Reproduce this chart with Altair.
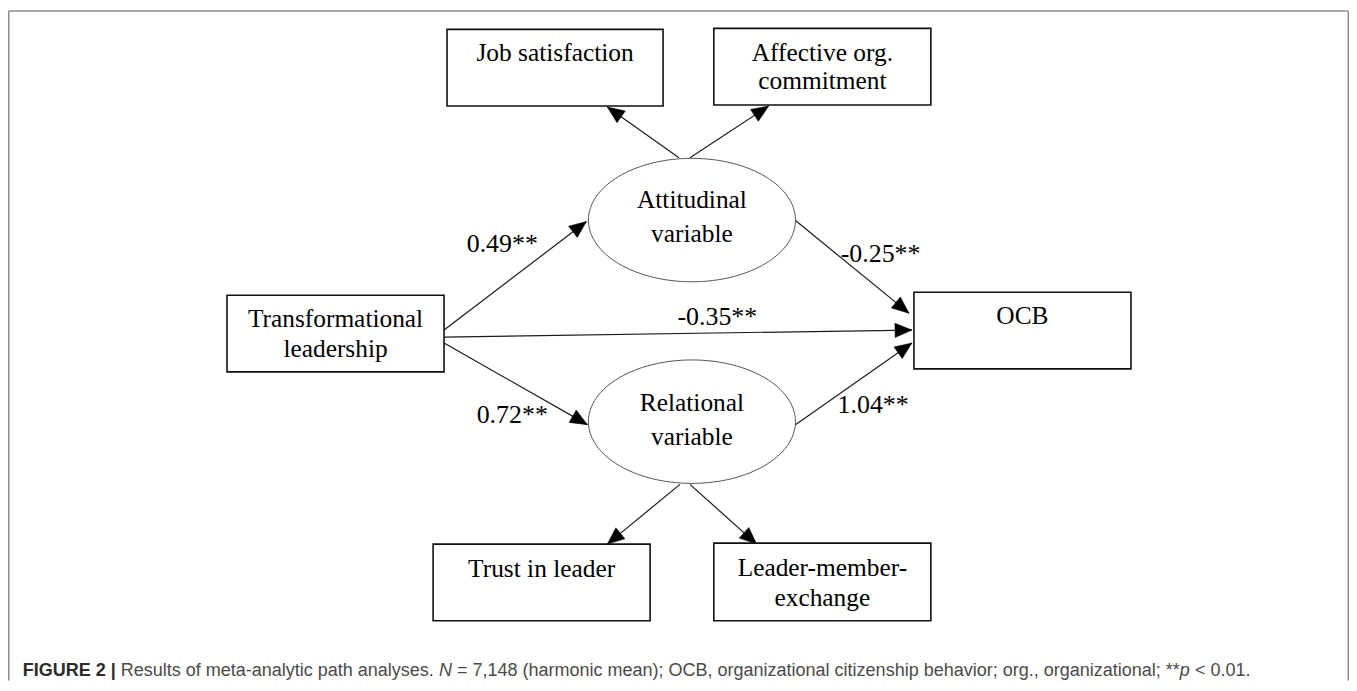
import altair as alt
import pandas as pd

# ---------------- layout of the page ----------------
W, H = 1347, 674          # plot area (px); page offset is 8px
ORIGIN = 8

# ---------------- diagram content ----------------
# rectangles (observed variables)
box_names = ["Job satisfaction", "Affective org. commitment", "Transformational leadership",
             "OCB", "Trust in leader", "Leader-member-exchange"]
box_x1 = [449, 717, 228, 918, 435, 717]
box_x2 = [666, 935, 446, 1136, 653, 935]
box_y1 = [28, 27, 295, 292, 545, 544]
box_y2 = [105, 104, 372, 369, 622, 622]

# ellipses (latent variables)
ell_names = ["Attitudinal variable", "Relational variable"]
ell_cx = [695, 695]
ell_cy = [219.5, 422]

# text lines inside nodes
label_lines = ["Job satisfaction", "Affective org.", "commitment", "Attitudinal", "variable",
               "Transformational", "leadership", "OCB", "Relational", "variable",
               "Trust in leader", "Leader-member-", "exchange"]
label_x = [557.5, 826, 826, 695, 695, 337, 337, 1027, 695, 695, 544, 826, 826]
label_y = [60, 60, 88, 207, 242, 327, 357, 324, 411, 445, 578, 577, 607]

# paths (start -> arrow tip)
edge_from = ["Attitudinal", "Attitudinal", "Transformational", "Transformational", "Transformational",
             "Attitudinal", "Relational", "Relational", "Relational"]
edge_to = ["Job satisfaction", "Affective", "Attitudinal", "OCB", "Relational",
           "OCB", "OCB", "Trust", "LMX"]
edge_x1 = [682, 693, 446, 446, 446, 799, 799, 683, 693]
edge_y1 = [157, 157, 330, 337, 343, 220, 425, 485, 485]
edge_x2 = [610, 772, 589, 916, 590, 913, 916, 610, 760]
edge_y2 = [106, 105, 221, 330, 425, 313, 343, 545, 545]

# path coefficients
coef_text = ["0.49**", "0.72**", "-0.35**", "-0.25**", "1.04**"]
coef_x = [504.5, 514.5, 720.5, 884.5, 877]
coef_y = [252, 423, 325, 262, 413]

# caption
cap_segments = ["FIGURE 2 |", " Results of meta-analytic path analyses. ", "N",
                " = 7,148 (harmonic mean); OCB, organizational citizenship behavior; org., organizational; **",
                "p", " < 0.01."]
cap_styles = ["bold", "normal", "italic", "normal", "italic", "normal"]
cap_left, cap_right, cap_base = 22.7, 1256, 677

# ---------------- caption metrics (Arial / Liberation Sans widths, 1/1000 em) ----------------
REG = {" ": 278, ".": 278, ",": 278, ";": 278, "-": 333, "(": 333, ")": 333, "*": 389,
       "<": 584, "=": 584, "|": 260,
       "a": 556, "b": 556, "c": 500, "d": 556, "e": 556, "f": 278, "g": 556, "h": 556,
       "i": 222, "j": 222, "k": 500, "l": 222, "m": 833, "n": 556, "o": 556, "p": 556,
       "q": 556, "r": 333, "s": 500, "t": 278, "u": 556, "v": 500, "w": 722, "x": 500,
       "y": 500, "z": 500,
       "A": 667, "B": 667, "C": 722, "D": 722, "E": 667, "F": 611, "G": 778, "H": 722,
       "I": 278, "N": 722, "O": 778, "R": 722, "U": 722}
for d in "0123456789":
    REG[d] = 556
BOLD = dict(REG)
BOLD.update({"F": 611, "I": 278, "G": 778, "U": 722, "R": 722, "E": 667, "|": 280, "2": 556})


def seg_width(s, style):
    table = BOLD if style == "bold" else REG
    return sum(table.get(ch, 556) for ch in s) / 1000.0


total_em = sum(seg_width(s, st) for s, st in zip(cap_segments, cap_styles))
cap_size = (cap_right - cap_left) / total_em
cap_rows = []
cursor = cap_left
for s, st in zip(cap_segments, cap_styles):
    lead = len(s) - len(s.lstrip(" "))
    start = cursor + seg_width(" " * lead, st) * cap_size
    cap_rows.append({"x": start, "y": cap_base, "text": s.strip(" "), "style": st})
    cursor += seg_width(s, st) * cap_size
cap_df = pd.DataFrame(cap_rows)

# ---------------- data frames ----------------
boxes = pd.DataFrame({"name": box_names, "x": box_x1, "x2": box_x2, "y": box_y1, "y2": box_y2})
ells = pd.DataFrame({"name": ell_names, "x": ell_cx, "y": ell_cy})
labels = pd.DataFrame({"text": label_lines, "x": label_x, "y": label_y})
edges = pd.DataFrame({"from": edge_from, "to": edge_to, "x1": edge_x1, "y1": edge_y1,
                      "x2": edge_x2, "y2": edge_y2})
coefs = pd.DataFrame({"text": coef_text, "x": coef_x, "y": coef_y})
frame = pd.DataFrame({"x": [8.75, 8.75, 1354.25], "y": [9.5, 9.5, 9.5],
                      "x2": [1354.25, 8.75, 1354.25], "y2": [9.5, ORIGIN + H, ORIGIN + H]})

xs = alt.Scale(domain=[ORIGIN, ORIGIN + W], nice=False, zero=False)
ys = alt.Scale(domain=[ORIGIN, ORIGIN + H], nice=False, zero=False, reverse=True)


def X(f):
    return alt.X(f, type="quantitative", scale=xs, axis=None)


def Y(f):
    return alt.Y(f, type="quantitative", scale=ys, axis=None)


frame_layer = alt.Chart(frame).mark_rule(color="#8c8c8c", strokeWidth=1.5).encode(
    x=X("x"), y=Y("y"), x2="x2", y2="y2")

box_layer = alt.Chart(boxes).mark_rect(fill="white", stroke="#111111", strokeWidth=1.6).encode(
    x=X("x"), x2="x2", y=Y("y"), y2="y2")

ellipse_path = "M-1,0A1,0.596,0,1,0,1,0A1,0.596,0,1,0,-1,0Z"
ell_layer = alt.Chart(ells).mark_point(shape=ellipse_path, filled=False, stroke="#555555",
                                       strokeWidth=1.0, opacity=1, size=208 * 208).encode(
    x=X("x"), y=Y("y"))

edge_layer = alt.Chart(edges).mark_rule(color="#1a1a1a", strokeWidth=1.2).encode(
    x=X("x1"), y=Y("y1"), x2="x2", y2="y2")

arrow_path = "M0,0L-0.42,1L0.42,1Z"
head_layer = alt.Chart(edges).transform_calculate(
    ang="(atan2(datum.x2 - datum.x1, datum.y1 - datum.y2) * 180 / PI + 360) % 360"
).mark_point(shape=arrow_path, filled=True, fill="#000000", stroke="#000000", strokeWidth=0.5,
             opacity=1, size=34 * 34).encode(
    x=X("x2"), y=Y("y2"), angle=alt.Angle("ang:Q", scale=None))

label_layer = alt.Chart(labels).mark_text(font="Liberation Serif", fontSize=25.5, color="#000000",
                                          align="center", baseline="alphabetic").encode(
    x=X("x"), y=Y("y"), text="text:N")

coef_layer = alt.Chart(coefs).mark_text(font="Liberation Serif", fontSize=26, color="#000000",
                                        align="center", baseline="alphabetic").encode(
    x=X("x"), y=Y("y"), text="text:N")

cap_layers = []
for st, weight, fstyle, col in [("bold", "bold", "normal", "#2b2b2b"),
                                ("normal", "normal", "normal", "#4a4a4a"),
                                ("italic", "normal", "italic", "#4a4a4a")]:
    cap_layers.append(
        alt.Chart(cap_df).transform_filter(alt.datum.style == st).mark_text(
            font="Liberation Sans", fontSize=cap_size, fontWeight=weight, fontStyle=fstyle,
            color=col, align="left", baseline="alphabetic").encode(
            x=X("x"), y=Y("y"), text="text:N"))

chart = alt.layer(frame_layer, edge_layer, head_layer, box_layer, ell_layer, label_layer,
                  coef_layer, *cap_layers).properties(
    width=W, height=H, padding=0, autosize=alt.AutoSizeParams(type="none"),
    background="white"
).configure_view(stroke=None)

chart.save("out.html", embed_options={"renderer": "svg", "actions": False})
